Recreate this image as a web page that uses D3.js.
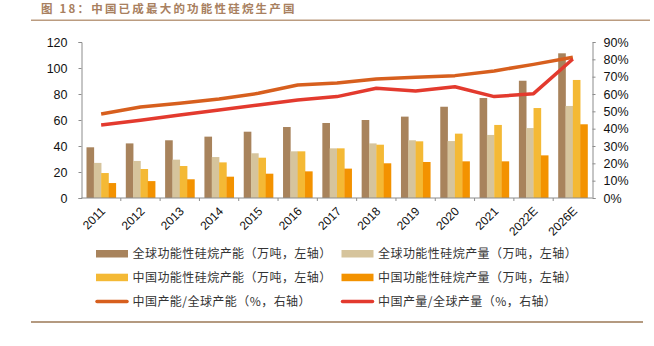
<!DOCTYPE html>
<html><head><meta charset="utf-8">
<script src="https://cdn.jsdelivr.net/npm/d3@7/dist/d3.min.js"></script>
<style>
body{margin:0;background:#fff;}
svg{display:block;}
</style></head>
<body>
<svg id="c" width="654" height="346"></svg>
<script>
const categories = ["2011","2012","2013","2014","2015","2016","2017","2018","2019","2020","2021","2022E","2026E"];
const globalCapacity   = [39, 42, 44.4, 47.2, 51, 54.6, 57.7, 60, 62.6, 70.2, 76.9, 90.2, 111.3];
const globalOutput     = [27, 28.5, 29.5, 31.5, 34.4, 35.9, 38.2, 42, 44.4, 43.8, 48.5, 53.8, 70.8];
const chinaCapacity    = [19.2, 22.3, 24.6, 27.4, 31, 35.9, 38.2, 41, 43.6, 49.5, 56.2, 69.2, 90.8];
const chinaOutput      = [11.5, 13, 14.4, 16.4, 18.7, 20.5, 22.6, 26.7, 27.7, 28.2, 28.2, 32.8, 56.7];
const capacityShare    = [48.5, 52.5, 54.6, 57.1, 60.4, 65.2, 66.4, 68.7, 69.6, 70.6, 73.3, 77.1, 81.2];
const outputShare      = [42.1, 44.8, 47.9, 50.8, 53.7, 56.5, 58.5, 63.3, 61.7, 64.2, 58.5, 60.2, 80.2];
const leftTicks  = [0,20,40,60,80,100,120];
const rightTicks = [0,10,20,30,40,50,60,70,80,90];

const barSeries = [
  {name:"全球功能性硅烷产能（万吨，左轴）", values:globalCapacity, color:"#A8835C"},
  {name:"全球功能性硅烷产量（万吨，左轴）", values:globalOutput,   color:"#D6C49C"},
  {name:"中国功能性硅烷产能（万吨，左轴）", values:chinaCapacity,  color:"#F4B935"},
  {name:"中国功能性硅烷产量（万吨，左轴）", values:chinaOutput,    color:"#F39200"}
];
const lineSeries = [
  {name:"中国产能/全球产能（%，右轴）", values:capacityShare, color:"#D75F1E"},
  {name:"中国产量/全球产量（%，右轴）", values:outputShare,   color:"#E33A2E"}
];

const svg = d3.select("#c");
const L = 81.5, R = 592.5, T = 42, B = 198;
const font = "'Liberation Sans', Arial, sans-serif";
const cjk = "'Noto Sans CJK SC', sans-serif";

// title
svg.append("text").attr("x",41).attr("y",13)
  .attr("font-family",cjk).attr("font-weight","bold").attr("font-size",11.5)
  .attr("letter-spacing",2.2).attr("fill","#A88060")
  .text("图 18：中国已成最大的功能性硅烷生产国");
svg.append("rect").attr("x",31).attr("y",19.5).attr("width",619).attr("height",1.5).attr("fill","#BB9C80");
svg.append("rect").attr("x",31).attr("y",321).attr("width",612).attr("height",2).attr("fill","#B49A80");

const x = d3.scaleBand().domain(categories).range([L, R]).padding(0);
const inner = d3.scaleBand().domain(d3.range(barSeries.length)).range([5, x.bandwidth()-5]).padding(0);
const yL = d3.scaleLinear().domain([0,120]).range([B, T]);
const yR = d3.scaleLinear().domain([0,90]).range([B, T]);

// bars
barSeries.forEach((s,i)=>{
  svg.append("g").selectAll("rect").data(s.values).join("rect")
    .attr("x",(d,j)=>x(categories[j])+inner(i))
    .attr("width",inner.bandwidth()+0.3)
    .attr("y",d=>yL(d))
    .attr("height",d=>B-yL(d))
    .attr("fill",s.color);
});

// axes
const axisColor = "#8c8c8c";
const gl = svg.append("g").attr("transform",`translate(${L},0)`)
  .call(d3.axisLeft(yL).tickValues(leftTicks).tickSize(3).tickPadding(11));
const gr = svg.append("g").attr("transform",`translate(${R},0)`)
  .call(d3.axisRight(yR).tickValues(rightTicks).tickFormat(d=>d+"%").tickSize(3).tickPadding(8));
[gl,gr].forEach(g=>{
  g.select(".domain").attr("stroke",axisColor);
  g.selectAll(".tick line").attr("stroke",axisColor);
  g.selectAll("text").attr("font-family",font).attr("font-size",12.5).attr("fill","#111");
});

// bottom axis
const gb = svg.append("g").attr("transform",`translate(0,${B})`);
gb.append("line").attr("x1",L).attr("x2",R).attr("stroke",axisColor);
gb.selectAll("line.t").data(categories.slice(1)).join("line").attr("class","t")
  .attr("x1",d=>x(d)).attr("x2",d=>x(d)).attr("y1",0).attr("y2",3).attr("stroke",axisColor);
gb.selectAll("text").data(categories).join("text")
  .attr("transform",d=>`translate(${x(d)+x.bandwidth()/2-1},8) rotate(-45)`)
  .attr("text-anchor","end").attr("dy","0.7em")
  .attr("font-family",font).attr("font-size",12).attr("fill","#111")
  .text(d=>d);

// lines
lineSeries.forEach(s=>{
  const line = d3.line().x((d,j)=>x(categories[j])+x.bandwidth()/2).y(d=>yR(d));
  svg.append("path").datum(s.values).attr("d",line)
    .attr("fill","none").attr("stroke",s.color).attr("stroke-width",3.5)
    .attr("stroke-linejoin","round");
});

// legend
const legItems = [
  {s:barSeries[0],type:"bar",col:0,row:0},
  {s:barSeries[1],type:"bar",col:1,row:0},
  {s:barSeries[2],type:"bar",col:0,row:1},
  {s:barSeries[3],type:"bar",col:1,row:1},
  {s:lineSeries[0],type:"line",col:0,row:2},
  {s:lineSeries[1],type:"line",col:1,row:2}
];
const colX = [96, 341.5], rowY = [253.8, 277.5, 301.5];
legItems.forEach(it=>{
  const gx = colX[it.col], gy = rowY[it.row];
  if(it.type==="bar"){
    svg.append("rect").attr("x",gx).attr("y",gy-3.8).attr("width",32).attr("height",7.5).attr("fill",it.s.color);
  } else {
    svg.append("line").attr("x1",gx+1).attr("x2",gx+31).attr("y1",gy).attr("y2",gy)
      .attr("stroke",it.s.color).attr("stroke-width",3.5).attr("stroke-linecap","round");
  }
  svg.append("text").attr("x",gx+36.5).attr("y",gy).attr("dy","0.36em")
    .attr("font-family",cjk).attr("font-size",12).attr("letter-spacing",0.45).attr("fill","#333")
    .text(it.s.name);
});
</script>
</body></html>
